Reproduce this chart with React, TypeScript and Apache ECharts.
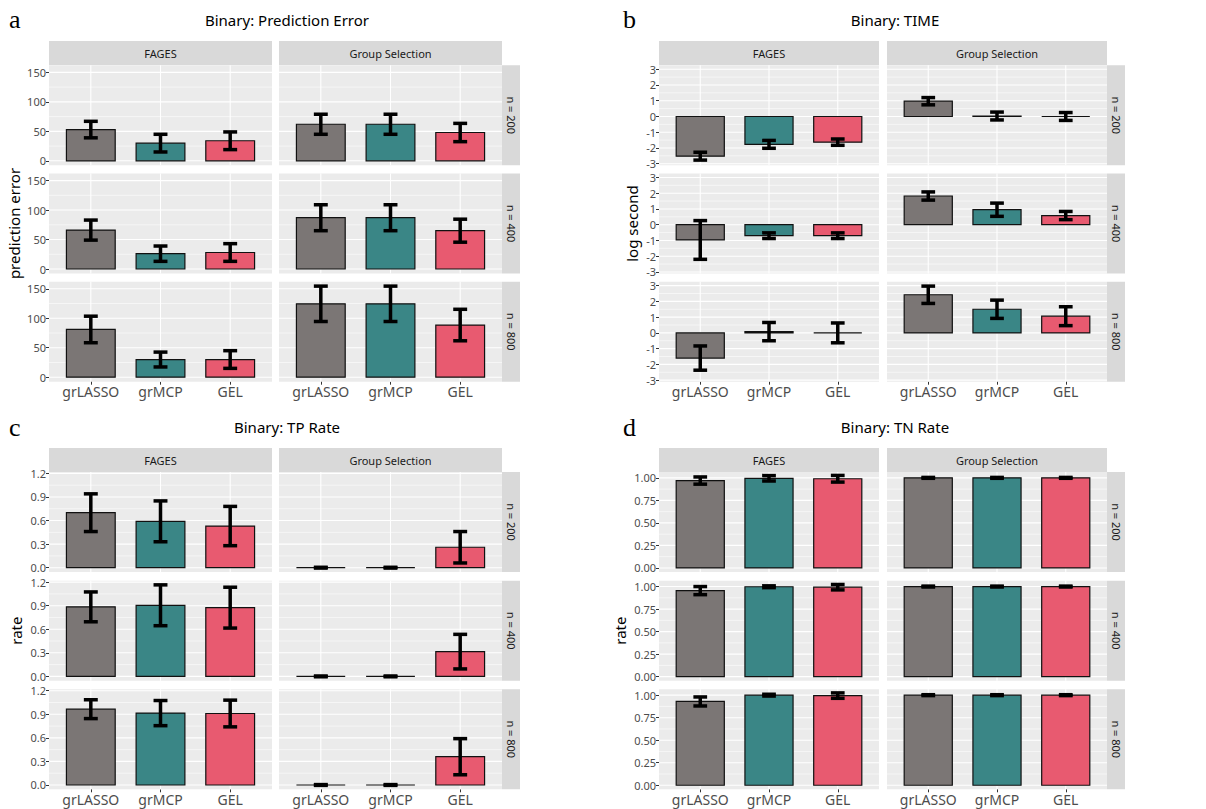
import React, { useEffect, useRef } from 'react';
import * as echarts from 'echarts';

const methods = ['grLASSO', 'grMCP', 'GEL'];
const methodColors = ['#7B7675', '#3A8686', '#E85A70'];
const facetCols = ['FAGES', 'Group Selection'];
const facetRows = ['n = 200', 'n = 400', 'n = 800'];

// Panel a: prediction error  [row n=200,400,800][method]
const predErrFagesMean = [[53, 30, 34], [66, 26, 28], [81, 30, 30]];
const predErrFagesSd = [[14, 15, 15], [17, 13, 15], [22.5, 12.6, 15]];
const predErrGroupMean = [[62, 62, 48], [87, 87, 65], [124.5, 124.5, 88.5]];
const predErrGroupSd = [[17, 17, 15.5], [22, 22, 19.5], [30, 30, 26.7]];

// Panel b: log second
const timeFagesMean = [[-2.52, -1.77, -1.63], [-0.97, -0.7, -0.7], [-1.6, 0.08, 0.0]];
const timeFagesSd = [[0.25, 0.25, 0.2], [1.23, 0.18, 0.18], [0.77, 0.58, 0.63]];
const timeGroupMean = [[0.97, 0.03, 0.0], [1.82, 0.95, 0.58], [2.42, 1.5, 1.06]];
const timeGroupSd = [[0.23, 0.25, 0.25], [0.26, 0.42, 0.26], [0.55, 0.58, 0.6]];

// Panel c: TP rate
const tpFagesMean = [[0.7, 0.59, 0.53], [0.885, 0.905, 0.875], [0.965, 0.915, 0.91]];
const tpFagesSd = [[0.24, 0.26, 0.25], [0.19, 0.26, 0.26], [0.12, 0.16, 0.17]];
const tpGroupMean = [[0, 0, 0.26], [0, 0, 0.315], [0, 0, 0.36]];
const tpGroupSd = [[0.005, 0.005, 0.2], [0.005, 0.005, 0.22], [0.005, 0.005, 0.23]];

// Panel d: TN rate
const tnFagesMean = [[0.97, 0.995, 0.99], [0.955, 0.998, 0.993], [0.93, 1.0, 0.995]];
const tnFagesSd = [[0.04, 0.03, 0.037], [0.045, 0.01, 0.03], [0.05, 0.01, 0.03]];
const tnGroupMean = [[1, 1, 1], [1, 1, 1], [1, 1, 1]];
const tnGroupSd = [[0.005, 0.005, 0.005], [0.005, 0.005, 0.005], [0.005, 0.005, 0.005]];

// Tick labels
const predTicks = [0, 50, 100, 150];
const predMinor = [25, 75, 125];
const timeTicks = [-3, -2, -1, 0, 1, 2, 3];
const timeMinor = [-2.5, -1.5, -0.5, 0.5, 1.5, 2.5];
const tpTicks = [0, 0.3, 0.6, 0.9, 1.2];
const tpMinor = [0.15, 0.45, 0.75, 1.05];
const tnTicks = [0, 0.25, 0.5, 0.75, 1];
const tnMinor = [0.125, 0.375, 0.625, 0.875];

const FONT = '"Noto Sans", sans-serif';

type Panel = {
  letter: string;
  title: string;
  yName: string;
  mean: number[][][];
  sd: number[][][];
  ticks: number[];
  minor: number[];
  min: number;
  max: number;
  fmt: (v: number) => string;
  side: 'left' | 'right';
  level: 'top' | 'bottom';
  yNameX: number;
};

const panels: Panel[] = [
  {
    letter: 'a', title: 'Binary: Prediction Error', yName: 'prediction error',
    mean: [predErrFagesMean, predErrGroupMean], sd: [predErrFagesSd, predErrGroupSd],
    ticks: predTicks, minor: predMinor, min: -7.6, max: 162,
    fmt: (v) => String(v), side: 'left', level: 'top', yNameX: 14,
  },
  {
    letter: 'b', title: 'Binary: TIME', yName: 'log second',
    mean: [timeFagesMean, timeGroupMean], sd: [timeFagesSd, timeGroupSd],
    ticks: timeTicks, minor: timeMinor, min: -3.1, max: 3.25,
    fmt: (v) => String(v), side: 'right', level: 'top', yNameX: 632,
  },
  {
    letter: 'c', title: 'Binary: TP Rate', yName: 'rate',
    mean: [tpFagesMean, tpGroupMean], sd: [tpFagesSd, tpGroupSd],
    ticks: tpTicks, minor: tpMinor, min: -0.055, max: 1.218,
    fmt: (v) => v.toFixed(1), side: 'left', level: 'bottom', yNameX: 16,
  },
  {
    letter: 'd', title: 'Binary: TN Rate', yName: 'rate',
    mean: [tnFagesMean, tnGroupMean], sd: [tnFagesSd, tnGroupSd],
    ticks: tnTicks, minor: tnMinor, min: -0.045, max: 1.065,
    fmt: (v) => v.toFixed(2), side: 'right', level: 'bottom', yNameX: 620,
  },
];

function buildOption() {
  const grids: any[] = [];
  const xAxes: any[] = [];
  const yAxes: any[] = [];
  const series: any[] = [];
  const graphics: any[] = [];

  panels.forEach((p) => {
    const isLeft = p.side === 'left';
    const isTop = p.level === 'top';
    const colX = isLeft ? [49, 279] : [659, 887];
    const colW = isLeft ? 223 : 220;
    const stripRX = colX[1] + colW;
    const stripW = 18;
    const stripY = isTop ? 41 : 448;
    const rowY = isTop ? [65.3, 173.5, 281.7] : [472, 580.7, 689.3];
    const rowH = 100;
    const titleX = isLeft ? 287 : 895;
    const titleY = isTop ? 20 : 427;
    const letterX = isLeft ? 9 : 623;
    const letterY = isTop ? 19.5 : 427;

    graphics.push({
      type: 'text', x: letterX, y: letterY,
      style: { text: p.letter, font: '26px "Liberation Serif", serif', fill: '#000', align: 'left', verticalAlign: 'middle' },
    });
    graphics.push({
      type: 'text', x: titleX, y: titleY,
      style: { text: p.title, font: `15px ${FONT}`, fill: '#000', align: 'center', verticalAlign: 'middle' },
    });
    graphics.push({
      type: 'text', x: p.yNameX, y: (rowY[0] + rowY[2] + rowH) / 2, rotation: Math.PI / 2,
      style: { text: p.yName, font: `15px ${FONT}`, fill: '#000', align: 'center', verticalAlign: 'middle' },
    });
    for (let c = 0; c < 2; c++) {
      graphics.push({
        type: 'rect', shape: { x: colX[c], y: stripY, width: colW, height: 24 },
        style: { fill: '#D9D9D9' }, silent: true,
      });
      graphics.push({
        type: 'text', x: colX[c] + colW / 2, y: stripY + 12,
        style: { text: facetCols[c], font: `11px ${FONT}`, fill: '#1A1A1A', align: 'center', verticalAlign: 'middle' },
      });
    }
    for (let r = 0; r < 3; r++) {
      graphics.push({
        type: 'rect', shape: { x: stripRX, y: rowY[r], width: stripW, height: rowH },
        style: { fill: '#D9D9D9' }, silent: true,
      });
      graphics.push({
        type: 'text', x: stripRX + stripW / 2, y: rowY[r] + rowH / 2, rotation: -Math.PI / 2,
        style: { text: facetRows[r], font: `11px ${FONT}`, fill: '#1A1A1A', align: 'center', verticalAlign: 'middle' },
      });
    }

    for (let r = 0; r < 3; r++) {
      for (let c = 0; c < 2; c++) {
        const idx = grids.length;
        const isBottomRow = r === 2;
        const isFirstCol = c === 0;
        grids.push({
          left: colX[c], top: rowY[r], width: colW, height: rowH,
          show: true, backgroundColor: '#EBEBEB', borderWidth: 0,
        });
        xAxes.push({
          gridIndex: idx, type: 'value', min: -0.6, max: 2.6, position: 'bottom',
          axisLine: { show: false, onZero: false }, splitLine: { show: false },
          axisTick: { show: isBottomRow, length: 3, customValues: [0, 1, 2], lineStyle: { color: '#333333', width: 1 } },
          axisLabel: {
            show: isBottomRow, customValues: [0, 1, 2], margin: 3,
            formatter: (v: number) => methods[Math.round(v)],
            color: '#4D4D4D', fontSize: 14, fontFamily: FONT,
          },
        });
        yAxes.push({
          gridIndex: idx, type: 'value', min: p.min, max: p.max, position: 'left',
          axisLine: { show: false, onZero: false }, splitLine: { show: false },
          axisTick: { show: isFirstCol, length: 3, customValues: p.ticks, lineStyle: { color: '#333333', width: 1 } },
          axisLabel: {
            show: isFirstCol, customValues: p.ticks, margin: 3,
            formatter: (v: number) => p.fmt(v),
            color: '#4D4D4D', fontSize: 11, lineHeight: 10, fontFamily: FONT,
          },
        });
        const mean = p.mean[c][r];
        const sd = p.sd[c][r];
        // horizontal grid lines
        series.push({
          type: 'custom', xAxisIndex: idx, yAxisIndex: idx, silent: true, z: 1,
          data: [...p.minor.map((v) => [v, 0]), ...p.ticks.map((v) => [v, 1])],
          renderItem: (params: any, api: any) => {
            const cs = params.coordSys;
            const y = api.coord([0, api.value(0)])[1];
            return {
              type: 'line',
              shape: { x1: cs.x, y1: y, x2: cs.x + cs.width, y2: y },
              style: { stroke: '#FFFFFF', lineWidth: api.value(1) ? 1.1 : 0.55 },
            };
          },
        });
        // vertical grid lines (thin rects)
        series.push({
          type: 'custom', xAxisIndex: idx, yAxisIndex: idx, silent: true, z: 1,
          data: methods.map((_, i) => [i, 0]),
          renderItem: (params: any, api: any) => {
            const cs = params.coordSys;
            const x = api.coord([api.value(0), 0])[0];
            return {
              type: 'rect',
              shape: { x: x - 0.55, y: cs.y, width: 1.1, height: cs.height },
              style: { fill: '#FFFFFF' },
            };
          },
        });
        // bars
        series.push({
          type: 'custom', xAxisIndex: idx, yAxisIndex: idx, silent: true, z: 2,
          data: methods.map((_, i) => [i, mean[i]]),
          renderItem: (params: any, api: any) => {
            const i = api.value(0);
            const v = api.value(1);
            const p0 = api.coord([i - 0.35, 0]);
            const p1 = api.coord([i + 0.35, v]);
            return {
              type: 'rect',
              shape: {
                x: p0[0], y: Math.min(p0[1], p1[1]),
                width: p1[0] - p0[0], height: Math.abs(p1[1] - p0[1]),
              },
              style: { fill: methodColors[i], stroke: '#111111', lineWidth: 1.2 },
            };
          },
        });
        // error bars
        series.push({
          type: 'custom', xAxisIndex: idx, yAxisIndex: idx, silent: true, z: 3,
          data: methods.map((_, i) => [i, mean[i] - sd[i], mean[i] + sd[i]]),
          renderItem: (params: any, api: any) => {
            const i = api.value(0);
            const lo = api.coord([i, api.value(1)]);
            const hi = api.coord([i, api.value(2)]);
            const l = api.coord([i - 0.1, 0])[0];
            const rr = api.coord([i + 0.1, 0])[0];
            const st = { stroke: '#000000', lineWidth: 3.5 };
            return {
              type: 'group',
              children: [
                { type: 'line', shape: { x1: lo[0], y1: lo[1], x2: hi[0], y2: hi[1] }, style: st },
                { type: 'line', shape: { x1: l, y1: lo[1], x2: rr, y2: lo[1] }, style: st },
                { type: 'line', shape: { x1: l, y1: hi[1], x2: rr, y2: hi[1] }, style: st },
              ],
            };
          },
        });
      }
    }
  });

  return {
    animation: false,
    backgroundColor: '#FFFFFF',
    textStyle: { fontFamily: FONT },
    grid: grids,
    xAxis: xAxes,
    yAxis: yAxes,
    series,
    graphic: graphics,
  };
}

export default function App() {
  const ref = useRef<HTMLDivElement>(null);
  useEffect(() => {
    document.body.style.margin = '0';
    const chart = echarts.init(ref.current!, null, { renderer: 'svg' });
    chart.setOption(buildOption() as any);
    return () => chart.dispose();
  }, []);
  return <div ref={ref} style={{ width: 1206, height: 809 }} />;
}
